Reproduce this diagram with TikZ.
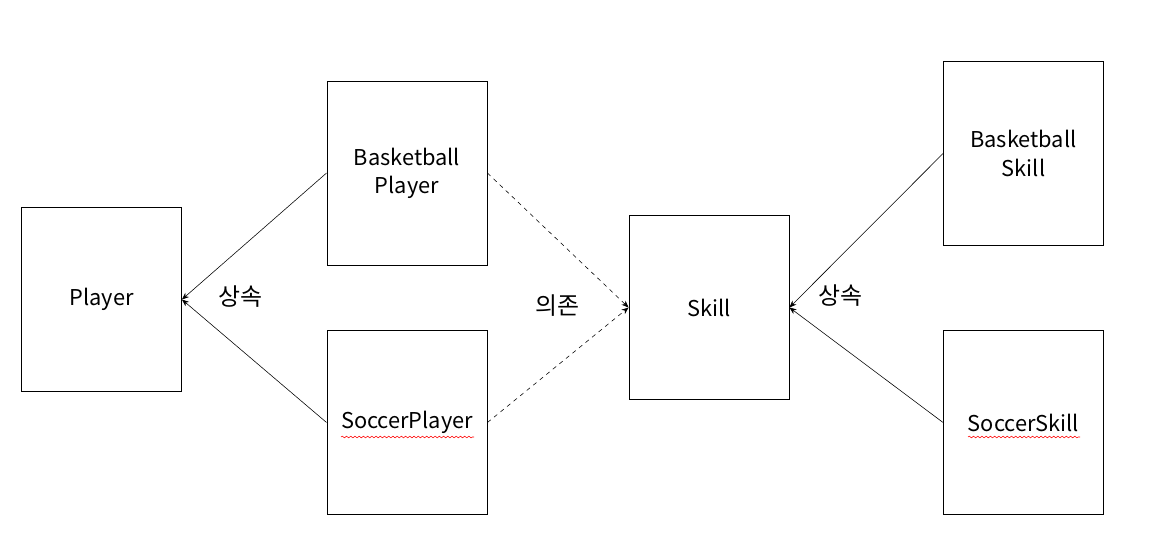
\documentclass[tikz,border=0pt]{standalone}
\usepackage{fontspec}
\setmainfont{Noto Sans CJK KR}
\usetikzlibrary{arrows.meta,decorations.pathmorphing}

\begin{document}
\begin{tikzpicture}[x=0.025cm, y=-0.025cm,
    box/.style={draw, line width=0.6pt, minimum width=4.0cm, minimum height=4.6cm, align=center, font=\fontsize{15.5}{20}\selectfont},
    inherit/.style={-{Stealth[length=5pt,width=4pt]}},
    depend/.style={-{Stealth[length=5pt,width=4pt]}, dashed},
    lbl/.style={font=\fontsize{17}{20}\selectfont},
    squiggle/.style={red, thin, decorate, decoration={snake, amplitude=0.6pt, segment length=3pt}}]
    \useasboundingbox (0,0) rectangle (1160,554);
    \node[box] (player) at (101.5,299.5) {Player};
    \node[box] (bplayer) at (407,173) {Basketball\\Player};
    \node[box] (splayer) at (407,422.5) {SoccerPlayer};
    \node[box] (skill) at (709,307.5) {Skill};
    \node[box] (bskill) at (1023.5,153.5) {Basketball\\Skill};
    \node[box] (sskill) at (1023.5,422.5) {SoccerSkill};
    \draw[inherit] (bplayer.west) -- (player.east);
    \draw[inherit] (splayer.west) -- (player.east);
    \draw[depend] (bplayer.east) -- (skill.west);
    \draw[depend] (splayer.east) -- (skill.west);
    \draw[inherit] (bskill.west) -- (skill.east);
    \draw[inherit] (sskill.west) -- (skill.east);
    \node[lbl] (lbl1) at (240,297) {상속};
    \node[lbl] (lbl2) at (557,306) {의존};
    \node[lbl] (lbl3) at (840,296) {상속};
    \draw[squiggle] (341,437) -- (474,437);
    \draw[squiggle] (968,437) -- (1080,437);
\end{tikzpicture}
\end{document}
